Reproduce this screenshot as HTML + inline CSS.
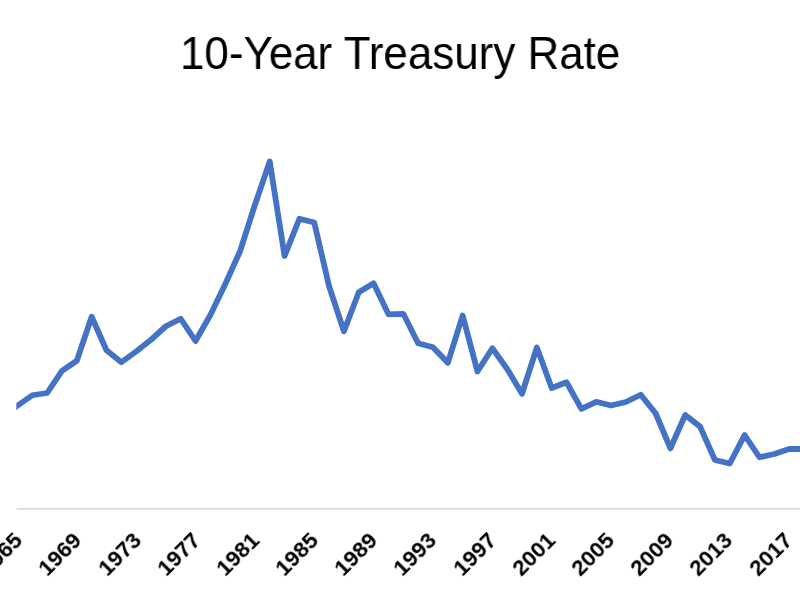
<!DOCTYPE html>
<html><head><meta charset="utf-8"><style>
html,body{margin:0;padding:0;background:#fff;}
body{width:800px;height:600px;overflow:hidden;position:relative;font-family:"Liberation Sans",sans-serif;}
.title{position:absolute;left:0;top:0;width:800px;text-align:center;font-size:46px;line-height:1;color:#000;}
.title span{position:absolute;left:180.35px;top:29.5px;white-space:nowrap;transform-origin:0 0;transform:scaleX(0.9547);will-change:transform;}
svg{position:absolute;left:0;top:0;}
.lb{position:absolute;top:529px;font-weight:bold;font-size:22.5px;line-height:1;color:#000;white-space:nowrap;transform-origin:100% 0;transform:translateX(-100%) rotate(-45deg);will-change:transform;}
</style></head><body>
<div class="title"><span id="t">10-Year Treasury Rate</span></div>
<svg width="800" height="600" viewBox="0 0 800 600">
<line x1="16.7" y1="508.8" x2="800" y2="508.8" stroke="#D8D8D8" stroke-width="1.8"/>
<defs><clipPath id="c"><rect x="16.3" y="0" width="800" height="600"/></clipPath></defs>
<polyline clip-path="url(#c)" points="2.61,416.25 17.45,405.75 32.29,395.25 47.13,393.00 61.97,370.80 76.81,360.75 91.65,316.80 106.49,350.25 121.33,362.25 136.17,351.50 151.01,339.75 165.85,326.25 180.69,318.75 195.53,341.00 210.37,315.00 225.21,284.25 240.05,251.25 254.89,205.00 269.73,161.50 284.57,256.00 299.41,218.75 314.25,222.50 329.09,286.25 343.93,331.25 358.77,292.25 373.61,283.25 388.45,314.30 403.29,313.80 418.13,343.30 432.97,347.20 447.81,362.80 462.65,315.50 477.49,371.50 492.33,348.25 507.17,369.00 522.01,393.75 536.85,347.50 551.69,388.00 566.53,382.25 581.37,408.80 596.21,401.80 611.05,405.50 625.89,402.00 640.73,394.75 655.57,413.25 670.41,448.25 685.25,415.00 700.09,426.60 714.93,460.00 729.77,463.50 744.61,435.10 759.45,457.25 774.29,454.00 789.13,449.00 803.97,449.00" fill="none" stroke="#4472C4" stroke-width="5.8" stroke-linejoin="round" stroke-linecap="butt"/>
</svg>
<div class="lb" style="left:11.20px">1965</div>
<div class="lb" style="left:70.38px">1969</div>
<div class="lb" style="left:129.56px">1973</div>
<div class="lb" style="left:188.74px">1977</div>
<div class="lb" style="left:247.92px">1981</div>
<div class="lb" style="left:307.10px">1985</div>
<div class="lb" style="left:366.28px">1989</div>
<div class="lb" style="left:425.46px">1993</div>
<div class="lb" style="left:484.64px">1997</div>
<div class="lb" style="left:543.82px">2001</div>
<div class="lb" style="left:603.00px">2005</div>
<div class="lb" style="left:662.18px">2009</div>
<div class="lb" style="left:721.36px">2013</div>
<div class="lb" style="left:780.54px">2017</div>

</body></html>
